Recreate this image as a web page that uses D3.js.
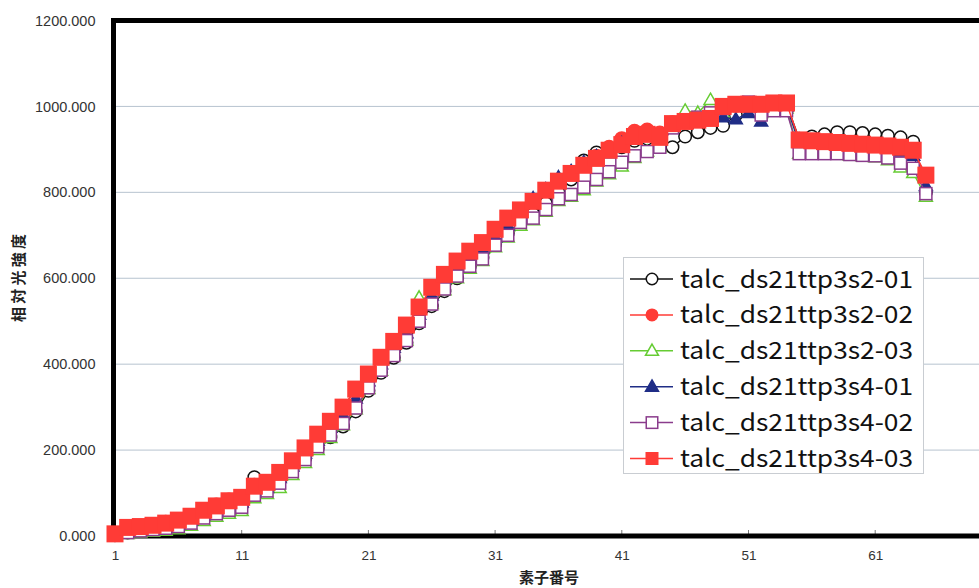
<!DOCTYPE html>
<html>
<head>
<meta charset="utf-8">
<script src="https://cdn.jsdelivr.net/npm/d3@7"></script>
<style>
  html, body { margin: 0; padding: 0; background: #fff; }
  svg { display: block; }
</style>
</head>
<body>
<svg id="chart" width="979" height="588"></svg>
<script>
// ---------- data ----------
const elementNumbers = [
  1,2,3,4,5,6,7,8,9,10,11,12,13,14,15,16,17,18,19,20,
  21,22,23,24,25,26,27,28,29,30,31,32,33,34,35,36,37,38,39,40,
  41,42,43,44,45,46,47,48,49,50,51,52,53,54,55,56,57,58,59,60,
  61,62,63,64,65
];
const xTickLabels = [1, 11, 21, 31, 41, 51, 61];
const yTickLabels = [0, 200, 400, 600, 800, 1000, 1200];
const seriesNames = [
  "talc_ds21ttp3s2-01", "talc_ds21ttp3s2-02", "talc_ds21ttp3s2-03",
  "talc_ds21ttp3s4-01", "talc_ds21ttp3s4-02", "talc_ds21ttp3s4-03"
];
const s2_01 = [
  2,8,12,16,20,26,34,45,55,65,
  70,137,110,130,155,180,205,230,255,290,
  338,380,415,450,495,535,570,600,628,648,
  680,705,730,750,775,800,830,874,893,900,
  905,920,925,910,905,930,940,950,955,980,
  1000,1000,1000,1005,925,930,935,940,940,938,
  935,932,928,918,800
];
const s2_02 = [
  5,18,22,26,32,38,48,60,72,84,
  92,118,126,148,176,206,236,266,300,340,
  375,414,452,490,530,576,608,638,662,682,
  712,738,758,780,806,828,846,866,884,905,
  925,942,945,938,962,966,968,972,998,1003,
  1003,1003,1006,1006,920,918,916,914,912,910,
  908,906,903,896,838
];
const s2_03 = [
  2,5,8,10,12,16,24,35,45,52,
  58,88,98,112,142,170,200,228,258,295,
  342,385,420,455,555,540,572,600,622,640,
  672,695,722,735,755,780,790,805,825,842,
  860,880,895,905,960,990,985,1015,985,1000,
  1005,985,995,995,890,888,888,888,886,884,
  882,875,858,845,790
];
const s4_01 = [
  3,10,15,18,22,28,36,50,60,70,
  78,105,112,135,162,192,222,252,282,320,
  360,400,438,472,515,560,600,625,650,670,
  695,722,745,786,807,835,849,870,884,891,
  914,925,930,925,955,960,965,968,975,970,
  985,965,990,1000,915,912,910,908,906,904,
  902,900,895,885,815
];
const s4_02 = [
  3,8,12,15,18,22,30,42,52,60,
  67,95,105,123,150,178,208,235,262,298,
  345,386,420,455,500,540,575,605,628,645,
  677,700,730,740,760,785,795,812,830,848,
  870,885,895,905,950,965,975,985,995,1005,
  1010,980,990,990,890,890,890,890,888,886,
  885,880,868,856,797
];
const s4_03 = [
  5,20,22,25,30,37,46,60,70,82,
  90,116,125,148,175,205,237,267,300,342,
  377,416,453,491,533,579,609,640,663,683,
  714,740,759,779,805,826,844,863,879,898,
  911,930,935,928,960,965,968,972,1000,1005,
  1005,1005,1008,1008,922,920,918,916,914,912,
  910,908,905,898,840
];

// ---------- styles ----------
const RED = "#ff3b36", BLACK = "#111", GREEN = "#66cc33", NAVY = "#1f2d86", PURPLE = "#8a3c8c";
const seriesDefs = [
  { name: seriesNames[0], values: s2_01, color: BLACK,  shape: "circle",   fill: "#fff", size: 14 },
  { name: seriesNames[1], values: s2_02, color: RED,    shape: "circle",   fill: RED,    size: 15 },
  { name: seriesNames[2], values: s2_03, color: GREEN,  shape: "triangle", fill: "#fff", size: 13 },
  { name: seriesNames[3], values: s4_01, color: NAVY,   shape: "triangle", fill: NAVY,   size: 13 },
  { name: seriesNames[4], values: s4_02, color: PURPLE, shape: "square",   fill: "#fff", size: 13.5 },
  { name: seriesNames[5], values: s4_03, color: RED,    shape: "square",   fill: RED,    size: 17 }
];

const svg = d3.select("#chart");
const W = 979, H = 588;
const plot = { left: 113.5, top: 20.5, bottom: 536, right: 990 };

const x = d3.scaleLinear().domain([1, 70]).range([115, 115 + 69 * 12.67]);
const y = d3.scaleLinear().domain([0, 1200]).range([plot.bottom, plot.top]);

// gridlines
svg.append("g")
  .selectAll("line")
  .data(yTickLabels.filter(v => v > 0 && v < 1200))
  .join("line")
  .attr("x1", plot.left).attr("x2", W)
  .attr("y1", d => y(d)).attr("y2", d => y(d))
  .attr("stroke", "#b7c3cf").attr("stroke-width", 1);

// y axis labels
const yAxis = d3.axisLeft(y).tickValues(yTickLabels).tickFormat(d3.format(".3f")).tickSize(0).tickPadding(18);
const yg = svg.append("g").attr("transform", `translate(${plot.left},0)`).call(yAxis);
yg.select(".domain").remove();
yg.selectAll("text")
  .attr("font-family", "'Liberation Sans', Arial, sans-serif")
  .attr("font-size", 14.5).attr("fill", "#333");

// x axis labels
const xAxis = d3.axisBottom(x).tickValues(xTickLabels).tickFormat(d3.format("d")).tickSize(0).tickPadding(14);
const xg = svg.append("g").attr("transform", `translate(0,${plot.bottom})`).call(xAxis);
xg.select(".domain").remove();
xg.selectAll("text")
  .attr("font-family", "'Liberation Sans', Arial, sans-serif")
  .attr("font-size", 13.5).attr("fill", "#333");
// small inward tick marks
svg.append("g").selectAll("line").data(xTickLabels).join("line")
  .attr("x1", d => x(d)).attr("x2", d => x(d))
  .attr("y1", plot.bottom - 6).attr("y2", plot.bottom)
  .attr("stroke", "#777").attr("stroke-width", 1);

// frame (thick black)
svg.append("line").attr("x1", plot.left - 2.5).attr("x2", W).attr("y1", plot.top).attr("y2", plot.top)
  .attr("stroke", "#000").attr("stroke-width", 5);
svg.append("line").attr("x1", plot.left - 2.5).attr("x2", W).attr("y1", plot.bottom).attr("y2", plot.bottom)
  .attr("stroke", "#000").attr("stroke-width", 5);
svg.append("line").attr("x1", plot.left).attr("x2", plot.left).attr("y1", plot.top - 2.5).attr("y2", plot.bottom + 2.5)
  .attr("stroke", "#000").attr("stroke-width", 5);

// axis titles
svg.append("text")
  .attr("transform", "translate(24,278) rotate(-90)")
  .attr("text-anchor", "middle")
  .attr("font-family", "'Noto Sans CJK JP', sans-serif")
  .attr("font-size", 15).attr("font-weight", "bold").attr("fill", "#222")
  .attr("textLength", 88).attr("lengthAdjust", "spacing")
  .text("相対光強度");
svg.append("text")
  .attr("x", 549).attr("y", 583)
  .attr("text-anchor", "middle")
  .attr("font-family", "'Noto Sans CJK JP', sans-serif")
  .attr("font-size", 15).attr("font-weight", "bold").attr("fill", "#222")
  .text("素子番号");

// marker drawing helper
function drawMarker(g, def, cx, cy) {
  const s = def.size;
  if (def.shape === "circle") {
    g.append("circle").attr("cx", cx).attr("cy", cy).attr("r", s / 2 - 0.75)
      .attr("fill", def.fill).attr("stroke", def.color).attr("stroke-width", 1.5);
  } else if (def.shape === "square") {
    const o = def.fill === "#fff" ? 0.75 : 0;
    g.append("rect").attr("x", cx - s / 2 + o).attr("y", cy - s / 2 + o)
      .attr("width", s - 2 * o).attr("height", s - 2 * o)
      .attr("fill", def.fill).attr("stroke", def.color).attr("stroke-width", def.fill === "#fff" ? 1.5 : 0);
  } else {
    const h = s * 0.87;
    const pts = [[cx, cy - h * 0.6], [cx + s / 2, cy + h * 0.4], [cx - s / 2, cy + h * 0.4]];
    g.append("polygon").attr("points", pts.map(p => p.join(",")).join(" "))
      .attr("fill", def.fill).attr("stroke", def.color).attr("stroke-width", 1.5);
  }
}

// series
const line = d3.line().x((d, i) => x(elementNumbers[i])).y(d => y(d));
seriesDefs.forEach(def => {
  const g = svg.append("g");
  g.append("path").attr("d", line(def.values))
    .attr("fill", "none").attr("stroke", def.color).attr("stroke-width", 1.5);
  def.values.forEach((v, i) => drawMarker(g, def, x(elementNumbers[i]), y(v)));
});

// legend
const lg = svg.append("g");
lg.append("rect").attr("x", 623.5).attr("y", 257.5).attr("width", 300).attr("height", 216)
  .attr("fill", "#fff").attr("stroke", "#c9cdd2").attr("stroke-width", 1);
seriesDefs.forEach((def, i) => {
  const cy = 279 + i * 35.9;
  lg.append("line").attr("x1", 630).attr("x2", 673).attr("y1", cy).attr("y2", cy)
    .attr("stroke", def.color).attr("stroke-width", 1.5);
  drawMarker(lg, Object.assign({}, def, { size: 13 }), 652, cy);
  lg.append("text").attr("x", 680).attr("y", cy + 8.5)
    .attr("font-family", "'Noto Sans CJK JP', sans-serif")
    .attr("font-size", 24).attr("fill", "#111")
    .attr("textLength", 233).attr("lengthAdjust", "spacingAndGlyphs")
    .text(def.name);
});
</script>
</body>
</html>
